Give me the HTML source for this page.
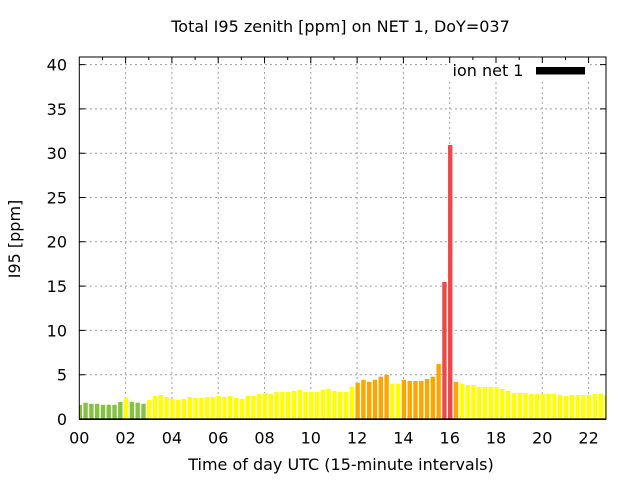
<!DOCTYPE html>
<html><head><meta charset="utf-8"><style>
html,body{margin:0;padding:0;background:#fff;}
svg{display:block;}
text{font-family:"DejaVu Sans","Liberation Sans",sans-serif;font-size:16px;fill:#000;}
</style></head><body>
<svg width="640" height="480" viewBox="0 0 640 480" xmlns="http://www.w3.org/2000/svg">
<defs><clipPath id="pc"><rect x="79.3" y="57" width="526.7" height="362"/></clipPath></defs>
<rect width="640" height="480" fill="#fff"/>
<path stroke="#a0a0a0" stroke-width="1" stroke-dasharray="2,3" fill="none" d="M80 374.7H606M80 330.4H606M80 286.1H606M80 241.8H606M80 197.5H606M80 153.2H606M80 108.9H606M80 64.6H606M125.6 57V419M171.9 57V419M218.2 57V419M264.5 57V419M310.8 57V419M357.1 57V419M403.4 57V419M449.7 57V419M496 57V419M542.3 57V419M588.6 57V419"/>
<g clip-path="url(#pc)">
<path fill="#84c341" d="M77.6 405h4.4V419h-4.4zM83.39 402.7h4.4V419h-4.4zM89.18 403.7h4.4V419h-4.4zM94.96 403.7h4.4V419h-4.4zM100.75 404.7h4.4V419h-4.4zM106.54 404.7h4.4V419h-4.4zM112.33 404.7h4.4V419h-4.4zM118.12 402h4.4V419h-4.4zM129.69 401.7h4.4V419h-4.4zM135.48 402.7h4.4V419h-4.4zM141.27 403.7h4.4V419h-4.4z"/>
<path fill="#ffff00" d="M123.9 397.7h4.4V419h-4.4zM147.06 400h4.4V419h-4.4zM152.84 396h4.4V419h-4.4zM158.63 395h4.4V419h-4.4zM164.42 397h4.4V419h-4.4zM170.21 399h4.4V419h-4.4zM176 400h4.4V419h-4.4zM181.78 399h4.4V419h-4.4zM187.57 397h4.4V419h-4.4zM193.36 398h4.4V419h-4.4zM199.15 398h4.4V419h-4.4zM204.94 397h4.4V419h-4.4zM210.72 397h4.4V419h-4.4zM216.51 396h4.4V419h-4.4zM222.3 397h4.4V419h-4.4zM228.09 396h4.4V419h-4.4zM233.88 398h4.4V419h-4.4zM239.66 399h4.4V419h-4.4zM245.45 396h4.4V419h-4.4zM251.24 396h4.4V419h-4.4zM257.03 394h4.4V419h-4.4zM262.82 393h4.4V419h-4.4zM268.6 394h4.4V419h-4.4zM274.39 392h4.4V419h-4.4zM280.18 392h4.4V419h-4.4zM285.97 392h4.4V419h-4.4zM291.76 391h4.4V419h-4.4zM297.54 389.7h4.4V419h-4.4zM303.33 392h4.4V419h-4.4zM309.12 392h4.4V419h-4.4zM314.91 392h4.4V419h-4.4zM320.7 389.7h4.4V419h-4.4zM326.48 388.7h4.4V419h-4.4zM332.27 391h4.4V419h-4.4zM338.06 392h4.4V419h-4.4zM343.85 392h4.4V419h-4.4zM349.64 386.7h4.4V419h-4.4zM390.15 383.7h4.4V419h-4.4zM395.94 383.7h4.4V419h-4.4zM459.61 383.7h4.4V419h-4.4zM465.4 385h4.4V419h-4.4zM471.18 385h4.4V419h-4.4zM476.97 387h4.4V419h-4.4zM482.76 387h4.4V419h-4.4zM488.55 387h4.4V419h-4.4zM494.34 387h4.4V419h-4.4zM500.12 389h4.4V419h-4.4zM505.91 391h4.4V419h-4.4zM511.7 393h4.4V419h-4.4zM517.49 393h4.4V419h-4.4zM523.28 393h4.4V419h-4.4zM529.06 393.7h4.4V419h-4.4zM534.85 393.7h4.4V419h-4.4zM540.64 393.7h4.4V419h-4.4zM546.43 393.7h4.4V419h-4.4zM552.22 393.7h4.4V419h-4.4zM558 395h4.4V419h-4.4zM563.79 395.7h4.4V419h-4.4zM569.58 395h4.4V419h-4.4zM575.37 395h4.4V419h-4.4zM581.16 395h4.4V419h-4.4zM586.94 395h4.4V419h-4.4zM592.73 393.7h4.4V419h-4.4zM598.52 393.7h4.4V419h-4.4zM604.31 395h4.4V419h-4.4z"/>
<path fill="#ffa500" d="M355.42 382.7h4.4V419h-4.4zM361.21 380h4.4V419h-4.4zM367 381.7h4.4V419h-4.4zM372.79 379.7h4.4V419h-4.4zM378.58 376.7h4.4V419h-4.4zM384.36 374.7h4.4V419h-4.4zM401.73 379.7h4.4V419h-4.4zM407.52 381h4.4V419h-4.4zM413.3 381h4.4V419h-4.4zM419.09 381h4.4V419h-4.4zM424.88 379h4.4V419h-4.4zM430.67 376.7h4.4V419h-4.4zM436.46 364h4.4V419h-4.4zM453.82 382h4.4V419h-4.4z"/>
<path fill="#f04848" d="M442.24 282h4.4V419h-4.4zM448.03 145h4.4V419h-4.4z"/>
</g>
<rect x="448" y="59" width="142" height="20" fill="#fff"/>
<text x="452.5" y="76">ion net 1</text>
<rect x="536" y="67" width="49" height="7.5" fill="#000"/>
<path stroke="#000" stroke-width="1" fill="none" d="M79.3 374.7h6M606 374.7h-6M79.3 330.4h6M606 330.4h-6M79.3 286.1h6M606 286.1h-6M79.3 241.8h6M606 241.8h-6M79.3 197.5h6M606 197.5h-6M79.3 153.2h6M606 153.2h-6M79.3 108.9h6M606 108.9h-6M79.3 64.6h6M606 64.6h-6M102.5 57v3M125.6 57v6M148.8 57v3M171.9 57v6M195.1 57v3M218.2 57v6M241.4 57v3M264.5 57v6M287.7 57v3M310.8 57v6M334 57v3M357.1 57v6M380.3 57v3M403.4 57v6M426.6 57v3M449.7 57v6M472.9 57v3M496 57v6M519.2 57v3M542.3 57v6M565.5 57v3M588.6 57v6"/>
<rect x="79.3" y="57" width="526.7" height="362" fill="none" stroke="#000" stroke-width="1"/>
<line x1="79.3" y1="419.2" x2="606" y2="419.2" stroke="#000" stroke-width="1.6"/>
<g text-anchor="end">
<text x="67" y="424.9">0</text>
<text x="67" y="380.6">5</text>
<text x="67" y="336.3">10</text>
<text x="67" y="292">15</text>
<text x="67" y="247.7">20</text>
<text x="67" y="203.4">25</text>
<text x="67" y="159.1">30</text>
<text x="67" y="114.8">35</text>
<text x="67" y="70.5">40</text>
</g>
<g text-anchor="middle">
<text x="79.3" y="443.5">00</text>
<text x="125.6" y="443.5">02</text>
<text x="171.9" y="443.5">04</text>
<text x="218.2" y="443.5">06</text>
<text x="264.5" y="443.5">08</text>
<text x="310.8" y="443.5">10</text>
<text x="357.1" y="443.5">12</text>
<text x="403.4" y="443.5">14</text>
<text x="449.7" y="443.5">16</text>
<text x="496" y="443.5">18</text>
<text x="542.3" y="443.5">20</text>
<text x="588.6" y="443.5">22</text>
</g>
<text x="340.5" y="32" text-anchor="middle">Total I95 zenith [ppm] on NET 1, DoY=037</text>
<text x="341" y="470" text-anchor="middle">Time of day UTC (15-minute intervals)</text>
<text transform="translate(20,239) rotate(-90)" text-anchor="middle">I95 [ppm]</text>
</svg>
</body></html>
